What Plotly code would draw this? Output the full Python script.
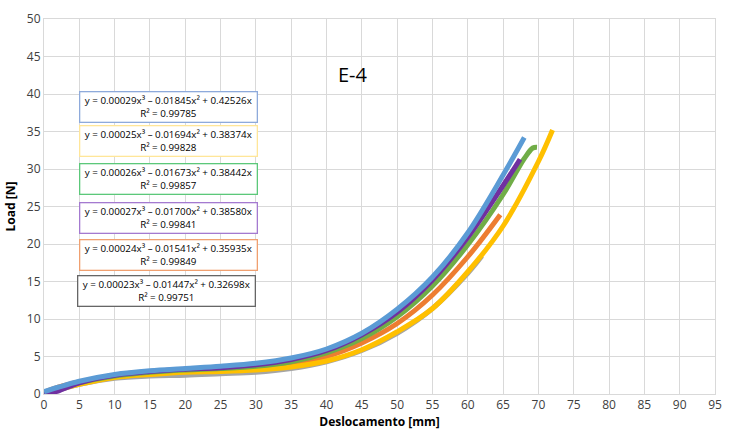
import plotly.graph_objects as go

# Series (x = Deslocamento [mm], y = Load [N])
gray_x = [0, 2, 5, 10, 15, 20, 25, 30, 35, 40, 45, 50, 55, 60, 62]
gray_y = [0, 0.5, 1.3, 2.1, 2.4, 2.5, 2.7, 2.9, 3.4, 4.3, 5.8, 8.1, 11.4, 16.1, 18.4]

orange_x = [0, 2, 5, 10, 15, 20, 25, 30, 35, 40, 45, 50, 55, 60, 64.6]
orange_y = [0.2, 0.9, 1.6, 2.4, 2.8, 3.0, 3.2, 3.5, 4.0, 5.0, 6.8, 9.4, 13.2, 18.3, 23.9]

yellow_x = [0, 2, 5, 10, 15, 20, 25, 30, 35, 40, 45, 50, 55, 60, 65, 70, 72]
yellow_y = [0, 0.6, 1.3, 2.2, 2.6, 2.9, 3.0, 3.2, 3.6, 4.4, 5.9, 8.3, 11.4, 16.3, 22.4, 31.0, 35.2]

green_x = [0, 2, 5, 10, 15, 20, 25, 30, 35, 40, 45, 50, 55, 60, 65, 68, 69.2, 69.8]
green_y = [0, 0.7, 1.5, 2.4, 2.9, 3.2, 3.4, 3.7, 4.3, 5.5, 7.4, 10.3, 14.4, 19.9, 26.6, 31.4, 32.8, 32.9]

purple_x = [0, 2, 5, 10, 15, 20, 25, 30, 35, 40, 45, 50, 55, 60, 65, 67.4]
purple_y = [0, 0.4, 1.5, 2.5, 3.0, 3.3, 3.5, 3.9, 4.6, 5.8, 7.9, 10.9, 15.2, 20.9, 27.8, 31.3]

blue_x = [0, 2, 5, 10, 15, 20, 25, 30, 35, 40, 45, 50, 55, 60, 65, 68]
blue_y = [0.3, 0.9, 1.7, 2.6, 3.1, 3.4, 3.7, 4.1, 4.8, 6.0, 8.1, 11.3, 15.6, 21.5, 29.2, 34.2]

equations = [
    "y = 0.00029x³ – 0.01845x² + 0.42526x<br>R² = 0.99785",
    "y = 0.00025x³ – 0.01694x² + 0.38374x<br>R² = 0.99828",
    "y = 0.00026x³ – 0.01673x² + 0.38442x<br>R² = 0.99857",
    "y = 0.00027x³ – 0.01700x² + 0.38580x<br>R² = 0.99841",
    "y = 0.00024x³ – 0.01541x² + 0.35935x<br>R² = 0.99849",
    "y = 0.00023x³ – 0.01447x² + 0.32698x<br>R² = 0.99751",
]
box_colors = ["#8eaadb", "#ffe699", "#5cc87a", "#a47ad0", "#f0a070", "#666666"]
box_y = [0.765, 0.674, 0.573, 0.470, 0.370, 0.276]
box_x = [0.185, 0.185, 0.185, 0.185, 0.185, 0.182]

x_ticks = list(range(0, 100, 5))
y_ticks = list(range(0, 55, 5))

series = [
    (gray_x, gray_y, "#a5a5a5"),
    (orange_x, orange_y, "#ed7d31"),
    (yellow_x, yellow_y, "#ffc000"),
    (green_x, green_y, "#70ad47"),
    (purple_x, purple_y, "#7030a0"),
    (blue_x, blue_y, "#5b9bd5"),
]

fig = go.Figure()
for xs, ys, c in series:
    fig.add_trace(go.Scatter(x=xs, y=ys, mode="lines",
                             line=dict(color=c, width=5, shape="spline"),
                             showlegend=False))

font_family = "Open Sans, Liberation Sans, sans-serif"
for txt, bc, yy, xx in zip(equations, box_colors, box_y, box_x):
    fig.add_annotation(xref="paper", yref="paper", x=xx, y=yy,
                       xanchor="center", yanchor="middle",
                       text=txt, showarrow=False, align="center",
                       font=dict(size=9.8, color="#000000", family=font_family),
                       bordercolor=bc, borderwidth=1.3, borderpad=1,
                       bgcolor="white", width=174, height=27)

fig.add_annotation(xref="paper", yref="paper", x=0.461, y=0.851,
                   xanchor="center", yanchor="middle",
                   text="E-4", showarrow=False,
                   font=dict(size=20, color="#000000", family=font_family))

fig.update_layout(
    width=732, height=434,
    margin=dict(l=41, r=10, t=11, b=40),
    paper_bgcolor="white", plot_bgcolor="white",
    font=dict(family=font_family, size=12, color="#404040"),
    xaxis=dict(range=[0, 95], tickvals=x_ticks, showgrid=True, gridcolor="#d9d9d9",
               gridwidth=1, zeroline=False, showline=True, linecolor="#d9d9d9",
               ticks="", tickfont=dict(size=12, color="#404040"),
               title=dict(text="<b>Deslocamento [mm]</b>", standoff=0,
                          font=dict(size=12, color="#000000")),
               mirror=True),
    yaxis=dict(range=[0, 50], tickvals=y_ticks, showgrid=True, gridcolor="#d9d9d9",
               gridwidth=1, zeroline=False, showline=True, linecolor="#d9d9d9",
               ticks="", tickfont=dict(size=12, color="#404040"),
               title=dict(text="<b>Load [N]</b>", standoff=8,
                          font=dict(size=12, color="#000000")),
               mirror=True),
)

fig.write_html("out.html")
